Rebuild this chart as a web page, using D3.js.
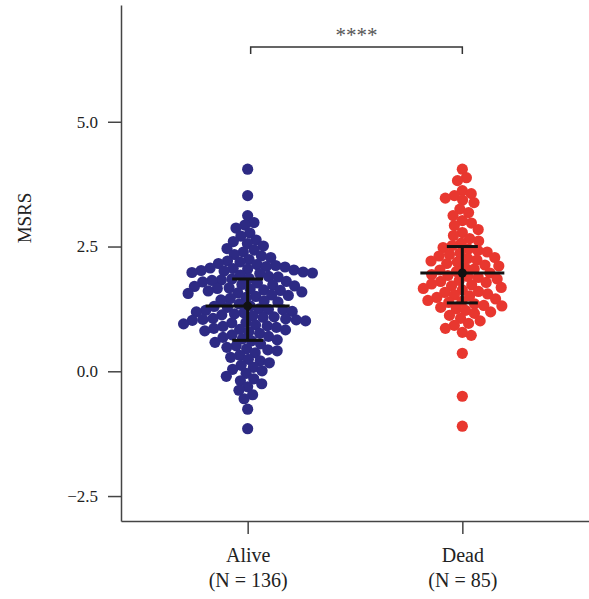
<!DOCTYPE html>
<html>
<head>
<meta charset="utf-8">
<script src="https://cdn.jsdelivr.net/npm/d3@7"></script>
<style>
  body { margin: 0; background: #fff; }
  text { font-family: "Liberation Serif", "DejaVu Serif", serif; }
</style>
</head>
<body>
<div id="chart"></div>
<script>
// groups and labels
var groups = ["Alive", "Dead"];
var groupNs = ["(N = 136)", "(N = 85)"];
var yTicks = [-2.5, 0, 2.5, 5];

// MSRS values
var aliveValues = [
  4.05, 3.52, 3.12, 2.98, 2.93, 2.87, 2.77, 2.71, 2.63,
  2.60, 2.56, 2.51, 2.46, 2.43,
  2.39, 2.34, 2.31, 2.28, 2.24, 2.21,
  2.19, 2.16, 2.14, 2.12, 2.10, 2.09, 2.07, 2.06, 2.05, 2.03, 2.02, 2.01,
  1.99, 1.98, 1.97, 1.96, 1.93, 1.90, 1.89, 1.86, 1.85, 1.83, 1.82, 1.80,
  1.79, 1.77, 1.74, 1.73, 1.71, 1.70, 1.67, 1.66, 1.65, 1.63, 1.62, 1.61,
  1.59, 1.57, 1.56, 1.53, 1.52, 1.50, 1.48, 1.46, 1.43, 1.41,
  1.39, 1.35, 1.31, 1.30, 1.28, 1.25, 1.24, 1.23, 1.22, 1.20,
  1.19, 1.17, 1.15, 1.13, 1.11, 1.09, 1.08, 1.06, 1.05, 1.04, 1.03, 1.02, 1.01,
  0.98, 0.97, 0.95, 0.93, 0.91, 0.90, 0.88, 0.86, 0.84, 0.83, 0.81,
  0.79, 0.76, 0.73, 0.70, 0.68, 0.65, 0.63, 0.61,
  0.58, 0.55, 0.51, 0.48, 0.45, 0.43, 0.41,
  0.37, 0.32, 0.28, 0.24, 0.21,
  0.17, 0.12, 0.08, 0.04, 0.01,
  -0.04, -0.10, -0.15, -0.19,
  -0.25, -0.31, -0.38,
  -0.47, -0.55, -0.76, -1.15
];
var deadValues = [
  4.05, 3.88, 3.82, 3.62, 3.56, 3.52, 3.47, 3.43, 3.38,
  3.25, 3.18, 3.12, 3.02, 2.97, 2.92, 2.84, 2.78, 2.72,
  2.66, 2.61, 2.57, 2.52,
  2.48, 2.45, 2.42, 2.39, 2.37, 2.34, 2.31,
  2.28, 2.26, 2.23, 2.21, 2.19, 2.16, 2.13, 2.11,
  2.08, 2.05, 2.03, 2.00, 1.97, 1.94, 1.92, 1.90,
  1.88, 1.85, 1.82, 1.80, 1.78, 1.75, 1.73, 1.71,
  1.68, 1.66, 1.63, 1.60, 1.58, 1.55, 1.53, 1.51,
  1.48, 1.45, 1.42, 1.40, 1.38, 1.35, 1.32, 1.31,
  1.28, 1.25, 1.22, 1.19, 1.16, 1.12,
  1.06, 1.01, 0.96, 0.92,
  0.86, 0.78, 0.72,
  0.36, -0.50, -1.10
];
// mean and error bar ends (low, mean, high) as drawn
var aliveStats = [0.62, 1.31, 1.85];
var deadStats = [1.37, 1.97, 2.50];
var colors = ["#2d2a84", "#e8372f"];
var sigLabel = "****";

var width = 589, height = 599;
var margin = {top: 5, right: 0, bottom: 78, left: 121};

var svg = d3.select("#chart").append("svg")
  .attr("width", width)
  .attr("height", height);

var y = d3.scaleLinear()
  .domain([-3, 7.34])
  .range([height - margin.bottom, margin.top]);

var x = d3.scalePoint()
  .domain(groups)
  .range([margin.left, width - margin.right])
  .padding(0.59);

// y axis
var yAxis = svg.append("g")
  .attr("transform", "translate(" + margin.left + ",0)")
  .call(d3.axisLeft(y).tickValues(yTicks).tickFormat(d3.format(".1f")).tickSize(13).tickPadding(10).tickSizeOuter(0));
yAxis.select(".domain").attr("stroke", "#444").attr("stroke-width", 1.5);
yAxis.selectAll(".tick line").attr("stroke", "#444").attr("stroke-width", 1.5);
yAxis.selectAll("text").attr("font-size", 17).attr("fill", "#222");

// x axis
var xAxis = svg.append("g")
  .attr("transform", "translate(0," + (height - margin.bottom) + ")")
  .call(d3.axisBottom(x).tickSize(13).tickSizeOuter(0).tickFormat(""));
xAxis.select(".domain").attr("stroke", "#444").attr("stroke-width", 1.5);
xAxis.selectAll(".tick line").attr("stroke", "#444").attr("stroke-width", 1.5);
xAxis.selectAll(".tick").each(function(d, i) {
  var t = d3.select(this).append("text")
    .attr("text-anchor", "middle")
    .attr("fill", "#222")
    .attr("font-size", 20);
  t.append("tspan").attr("x", 0).attr("y", 41).text(d);
  t.append("tspan").attr("x", 0).attr("y", 66).text(groupNs[i]);
});

// y label
svg.append("text")
  .attr("transform", "translate(31," + 218 + ")rotate(-90)")
  .attr("text-anchor", "middle")
  .attr("font-size", 19)
  .attr("fill", "#222")
  .text("MSRS");

// simple greedy beeswarm
function swarm(values, r) {
  var pts = values.map(function(v) { return {v: v, y: y(v)}; })
    .sort(function(a, b) { return a.y - b.y; });
  var placed = [];
  var d2 = r * r;
  pts.forEach(function(p) {
    var cands = [0];
    placed.forEach(function(q) {
      var dy = Math.abs(q.y - p.y);
      if (dy < r) {
        var dx = Math.sqrt(d2 - dy * dy);
        cands.push(q.dx + dx, q.dx - dx);
      }
    });
    cands.sort(function(a, b) { return Math.abs(a) - Math.abs(b); });
    for (var k = 0; k < cands.length; k++) {
      var c = cands[k];
      var ok = placed.every(function(q) {
        return (q.dx - c) * (q.dx - c) + (q.y - p.y) * (q.y - p.y) >= d2 - 0.01;
      });
      if (ok) { p.dx = c; break; }
    }
    placed.push(p);
  });
  return placed;
}

var sets = [aliveValues, deadValues];
var stats = [aliveStats, deadStats];

sets.forEach(function(vals, i) {
  var cx = x(groups[i]);
  svg.append("g").selectAll("circle")
    .data(swarm(vals, 9.4))
    .enter()
    .append("circle")
    .attr("cx", function(d) { return cx + d.dx; })
    .attr("cy", function(d) { return d.y; })
    .attr("r", 5.6)
    .attr("fill", colors[i]);
});

// mean +/- error bars
stats.forEach(function(s, i) {
  var cx = x(groups[i]);
  var g = svg.append("g").attr("stroke", "#111").attr("stroke-width", 3);
  g.append("line").attr("x1", cx).attr("x2", cx).attr("y1", y(s[0])).attr("y2", y(s[2]));
  g.append("line").attr("x1", cx - 15.5).attr("x2", cx + 15.5).attr("y1", y(s[0])).attr("y2", y(s[0]));
  g.append("line").attr("x1", cx - 15.5).attr("x2", cx + 15.5).attr("y1", y(s[2])).attr("y2", y(s[2]));
  g.append("line").attr("x1", cx - 42).attr("x2", cx + 42).attr("y1", y(s[1])).attr("y2", y(s[1]));
  svg.append("circle").attr("cx", cx).attr("cy", y(s[1])).attr("r", 4.5).attr("fill", "#111");
});

// significance bracket
var bx1 = x(groups[0]) + 3, bx2 = x(groups[1]), by = 47;
svg.append("path")
  .attr("d", "M" + bx1 + "," + (by + 7) + "V" + by + "H" + bx2 + "V" + (by + 7))
  .attr("fill", "none")
  .attr("stroke", "#333")
  .attr("stroke-width", 1.5);
svg.append("text")
  .attr("x", (bx1 + bx2) / 2)
  .attr("y", 42)
  .attr("text-anchor", "middle")
  .attr("font-size", 21)
  .attr("fill", "#555")
  .text(sigLabel);
</script>
</body>
</html>
